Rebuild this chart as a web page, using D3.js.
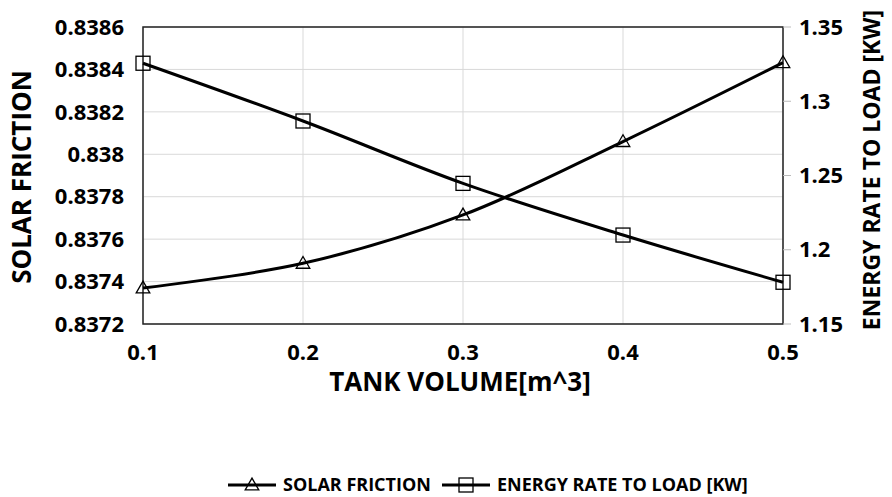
<!DOCTYPE html>
<html>
<head>
<meta charset="utf-8">
<script src="https://d3js.org/d3.v7.min.js"></script>
<style>
  body { margin: 0; background: #fff; }
  text { font-family: "Open Sans", "DejaVu Sans", sans-serif; font-weight: bold; fill: #000; }
</style>
</head>
<body>
<div id="chart"></div>
<script>
const tankVolume = [0.1, 0.2, 0.3, 0.4, 0.5];
const solarFriction = [0.83737, 0.837486, 0.837714, 0.83806, 0.838432];
const energyRate = [1.3256, 1.2867, 1.2447, 1.2099, 1.1781];
const leftTicks = [0.8372, 0.8374, 0.8376, 0.8378, 0.838, 0.8382, 0.8384, 0.8386];
const rightTicks = [1.15, 1.2, 1.25, 1.3, 1.35];

const width = 892, height = 497;
const plot = { left: 143, right: 783, top: 27, bottom: 324 };

const svg = d3.select("#chart").append("svg")
  .attr("width", width)
  .attr("height", height);

const x = d3.scaleLinear().domain([0.1, 0.5]).range([plot.left, plot.right]);
const yL = d3.scaleLinear().domain([0.8372, 0.8386]).range([plot.bottom, plot.top]);
const yR = d3.scaleLinear().domain([1.15, 1.35]).range([plot.bottom, plot.top]);

// grid
svg.append("g").selectAll("line")
  .data(leftTicks)
  .join("line")
  .attr("x1", plot.left).attr("x2", plot.right)
  .attr("y1", d => yL(d)).attr("y2", d => yL(d))
  .attr("stroke", "#d9d9d9").attr("stroke-width", 1);

svg.append("g").selectAll("line")
  .data(tankVolume)
  .join("line")
  .attr("x1", d => x(d)).attr("x2", d => x(d))
  .attr("y1", plot.top).attr("y2", plot.bottom)
  .attr("stroke", "#d9d9d9").attr("stroke-width", 1);

// frame
svg.append("rect")
  .attr("x", plot.left).attr("y", plot.top)
  .attr("width", plot.right - plot.left).attr("height", plot.bottom - plot.top)
  .attr("fill", "none").attr("stroke", "#222").attr("stroke-width", 1.5);

// left axis labels
svg.append("g").selectAll("text")
  .data(leftTicks)
  .join("text")
  .attr("x", plot.left - 19)
  .attr("y", d => yL(d))
  .attr("dy", "0.35em")
  .attr("text-anchor", "end")
  .attr("font-size", 22)
  .text(d => d3.format("")(d));

// right axis ticks + labels
svg.append("g").selectAll("line")
  .data(rightTicks)
  .join("line")
  .attr("x1", plot.right).attr("x2", plot.right + 8)
  .attr("y1", d => yR(d)).attr("y2", d => yR(d))
  .attr("stroke", "#bbb");

svg.append("g").selectAll("text")
  .data(rightTicks)
  .join("text")
  .attr("x", plot.right + 16)
  .attr("y", d => yR(d))
  .attr("dy", "0.35em")
  .attr("text-anchor", "start")
  .attr("font-size", 22)
  .text(d => d3.format("")(d));

// x axis labels
svg.append("g").selectAll("text")
  .data(tankVolume)
  .join("text")
  .attr("x", d => x(d))
  .attr("y", 352)
  .attr("dy", "0.35em")
  .attr("text-anchor", "middle")
  .attr("font-size", 22)
  .text(d => d);

// axis titles
svg.append("text")
  .attr("x", 460)
  .attr("y", 382)
  .attr("dy", "0.35em")
  .attr("text-anchor", "middle")
  .attr("font-size", 26)
  .text("TANK VOLUME[m^3]");

svg.append("text")
  .attr("transform", `translate(22,177) rotate(-90)`)
  .attr("dy", "0.35em")
  .attr("text-anchor", "middle")
  .attr("font-size", 26)
  .text("SOLAR FRICTION");

svg.append("text")
  .attr("transform", `translate(872,170) rotate(-90)`)
  .attr("dy", "0.35em")
  .attr("text-anchor", "middle")
  .attr("font-size", 23)
  .text("ENERGY RATE TO LOAD [KW]");

// lines
const curve = d3.curveCatmullRom.alpha(0.5);
const lineL = d3.line().x((d, i) => x(tankVolume[i])).y(d => yL(d)).curve(curve);
const lineR = d3.line().x((d, i) => x(tankVolume[i])).y(d => yR(d)).curve(curve);

svg.append("path").datum(solarFriction)
  .attr("d", lineL).attr("fill", "none").attr("stroke", "#000").attr("stroke-width", 3);
svg.append("path").datum(energyRate)
  .attr("d", lineR).attr("fill", "none").attr("stroke", "#000").attr("stroke-width", 3);

const tri = d3.symbol().type(d3.symbolTriangle).size(80);
function triangle(g, cx, cy) {
  g.append("path").attr("d", tri()).attr("transform", `translate(${cx},${cy + 1})`)
    .attr("fill", "none").attr("stroke", "#000").attr("stroke-width", 1.3);
}
function square(g, cx, cy) {
  g.append("rect").attr("x", cx - 7).attr("y", cy - 7).attr("width", 14).attr("height", 14)
    .attr("fill", "none").attr("stroke", "#000").attr("stroke-width", 1.3);
}

const markers = svg.append("g");
solarFriction.forEach((v, i) => triangle(markers, x(tankVolume[i]), yL(v)));
energyRate.forEach((v, i) => square(markers, x(tankVolume[i]), yR(v)));

// legend
const legend = svg.append("g");
const legY = 485;
legend.append("line").attr("x1", 228).attr("x2", 276).attr("y1", legY).attr("y2", legY)
  .attr("stroke", "#000").attr("stroke-width", 3);
triangle(legend, 252, legY);
legend.append("text").attr("x", 283).attr("y", legY).attr("dy", "0.35em")
  .attr("font-size", 18).text("SOLAR FRICTION");
legend.append("line").attr("x1", 442).attr("x2", 490).attr("y1", legY).attr("y2", legY)
  .attr("stroke", "#000").attr("stroke-width", 3);
square(legend, 466, legY);
legend.append("text").attr("x", 497).attr("y", legY).attr("dy", "0.35em")
  .attr("font-size", 18).text("ENERGY RATE TO LOAD [KW]");
</script>
</body>
</html>
